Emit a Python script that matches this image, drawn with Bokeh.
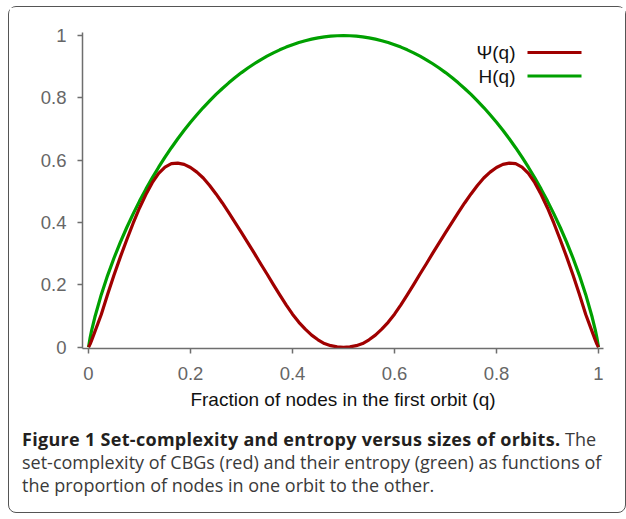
from bokeh.plotting import figure
from bokeh.models import ColumnDataSource, FixedTicker, Label, Arrow, Div, Range1d
from bokeh.layouts import column
from bokeh.embed import file_html
from bokeh.resources import INLINE

# fraction of nodes in the first orbit
q = [0, 0.003125, 0.00625, 0.0125, 0.025, 0.0375, 0.05, 0.0625, 0.075, 0.0875,
     0.1, 0.1125, 0.125, 0.1375, 0.15, 0.1625, 0.175, 0.1875, 0.2, 0.2125,
     0.225, 0.2375, 0.25, 0.2625, 0.275, 0.2875, 0.3, 0.3125, 0.325, 0.3375,
     0.35, 0.3625, 0.375, 0.3875, 0.4, 0.4125, 0.425, 0.4375, 0.45, 0.4625,
     0.475, 0.4875, 0.5,
     0.5125, 0.525, 0.5375, 0.55, 0.5625, 0.575, 0.5875, 0.6, 0.6125, 0.625,
     0.6375, 0.65, 0.6625, 0.675, 0.6875, 0.7, 0.7125, 0.725, 0.7375, 0.75,
     0.7625, 0.775, 0.7875, 0.8, 0.8125, 0.825, 0.8375, 0.85, 0.8625, 0.875,
     0.8875, 0.9, 0.9125, 0.925, 0.9375, 0.95, 0.9625, 0.975, 0.9875, 0.99375,
     0.996875, 1.0]

# set-complexity Psi(q)
psi = [0, 0.010, 0.023, 0.050, 0.105, 0.170, 0.232, 0.290, 0.345, 0.398,
       0.447, 0.490, 0.528, 0.558, 0.578, 0.589, 0.591, 0.587, 0.577, 0.562,
       0.543, 0.519, 0.492, 0.463, 0.432, 0.400, 0.368, 0.335, 0.302, 0.268,
       0.235, 0.201, 0.168, 0.136, 0.106, 0.080, 0.058, 0.039, 0.024, 0.012,
       0.005, 0.0013, 0,
       0.0013, 0.005, 0.012, 0.024, 0.039, 0.058, 0.080, 0.106, 0.136, 0.168,
       0.201, 0.235, 0.268, 0.302, 0.335, 0.368, 0.400, 0.432, 0.463, 0.492,
       0.519, 0.543, 0.562, 0.577, 0.587, 0.591, 0.589, 0.578, 0.558, 0.528,
       0.490, 0.447, 0.398, 0.345, 0.290, 0.232, 0.170, 0.105, 0.050, 0.023,
       0.010, 0]

# entropy H(q)
ent = [0, 0.0305, 0.0548, 0.0969, 0.1687, 0.2307, 0.2864, 0.3373, 0.3843, 0.4281,
       0.4690, 0.5074, 0.5436, 0.5777, 0.6098, 0.6403, 0.6690, 0.6962, 0.7219, 0.7460,
       0.7692, 0.7907, 0.8113, 0.8304, 0.8485, 0.8653, 0.8813, 0.8960, 0.9097, 0.9223,
       0.9341, 0.9447, 0.9544, 0.9631, 0.9710, 0.9778, 0.9837, 0.9887, 0.9928, 0.9959,
       0.9982, 0.9995, 1.0,
       0.9995, 0.9982, 0.9959, 0.9928, 0.9887, 0.9837, 0.9778, 0.9710, 0.9631, 0.9544,
       0.9447, 0.9341, 0.9223, 0.9097, 0.8960, 0.8813, 0.8653, 0.8485, 0.8304, 0.8113,
       0.7907, 0.7692, 0.7460, 0.7219, 0.6962, 0.6690, 0.6403, 0.6098, 0.5777, 0.5436,
       0.5074, 0.4690, 0.4281, 0.3843, 0.3373, 0.2864, 0.2307, 0.1687, 0.0969, 0.0548,
       0.0305, 0]

x_ticks = [0, 0.2, 0.4, 0.6, 0.8, 1]
x_tick_labels = ["0", "0.2", "0.4", "0.6", "0.8", "1"]
y_ticks = [0, 0.2, 0.4, 0.6, 0.8, 1]
y_tick_labels = ["0", "0.2", "0.4", "0.6", "0.8", "1"]

series_names = ["\u03a8(q)", "H(q)"]
series_colors = ["#a00000", "#00a000"]

x_label = "Fraction of nodes in the first orbit (q)"
caption_bold = "Figure 1 Set-complexity and entropy versus sizes of orbits."
caption_lines = ["The",
                 "set-complexity of CBGs (red) and their entropy (green) as functions of",
                 "the proportion of nodes in one orbit to the other."]

src = ColumnDataSource(dict(q=q, psi=psi, ent=ent))

p = figure(width=616, height=414, output_backend="svg", toolbar_location=None,
           x_range=Range1d(-0.0118, 1.0098), y_range=Range1d(-0.004, 1.01),
           min_border_left=73, min_border_right=22, min_border_top=25, min_border_bottom=73)
p.outline_line_color = None
p.grid.visible = False
p.background_fill_color = "white"
p.border_fill_color = "white"

p.line("q", "ent", source=src, line_color=series_colors[1], line_width=3.2,
       line_join="round")
p.line("q", "psi", source=src, line_color=series_colors[0], line_width=3.2,
       line_join="round")

for ax, ticks, labels in ((p.xaxis[0], x_ticks, x_tick_labels), (p.yaxis[0], y_ticks, y_tick_labels)):
    ax.ticker = FixedTicker(ticks=ticks)
    ax.major_label_overrides = {t: l for t, l in zip(ticks, labels)}
    ax.minor_tick_line_color = None
    ax.major_tick_in = 0
    ax.major_tick_out = 5
    ax.axis_line_color = "#6e6e6e"
    ax.axis_line_width = 1.5
    ax.major_tick_line_color = "#6e6e6e"
    ax.major_tick_line_width = 1.5
    ax.major_label_text_font = "Liberation Sans"
    ax.major_label_text_font_size = "18.5px"
    ax.major_label_text_color = "#666666"

p.xaxis.major_label_standoff = 13
p.yaxis.major_label_standoff = 11
p.xaxis.axis_label = x_label
p.xaxis.axis_label_text_font = "Liberation Sans"
p.xaxis.axis_label_text_font_size = "19px"
p.xaxis.axis_label_text_font_style = "normal"
p.xaxis.axis_label_text_color = "#111111"
p.xaxis.axis_label_standoff = 6

# legend (label to the left of sample line), screen units relative to the frame
leg_y = [296, 272.5]
for name, col, yy in zip(series_names, series_colors, leg_y):
    p.add_layout(Label(x=433, y=yy, x_units="screen", y_units="screen", text=name,
                       text_align="right", text_baseline="middle",
                       text_font="Liberation Sans", text_font_size="19px", text_color="#111111"))
    p.add_layout(Arrow(end=None, x_start=445, y_start=yy, x_end=499, y_end=yy,
                       start_units="screen", end_units="screen",
                       line_color=col, line_width=3.2))

cap_html = ('<b style="color:#231f20; letter-spacing:0.3px">' + caption_bold + '</b> '
            + caption_lines[0] + '<br>' + caption_lines[1] + '<br>' + caption_lines[2])
cap = Div(text=cap_html, width=600, height=84, margin=(7, 0, 0, 13),
          styles={"font-family": "'Open Sans', sans-serif", "font-size": "18px",
                  "line-height": "23px", "color": "#3a3a3a", "white-space": "nowrap"})

layout = column(p, cap, margin=(6, 0, 0, 8),
                styles={"border": "1px solid #555555", "border-radius": "8px",
                        "background-color": "white"})

open("out.html", "w").write(file_html(layout, INLINE))
